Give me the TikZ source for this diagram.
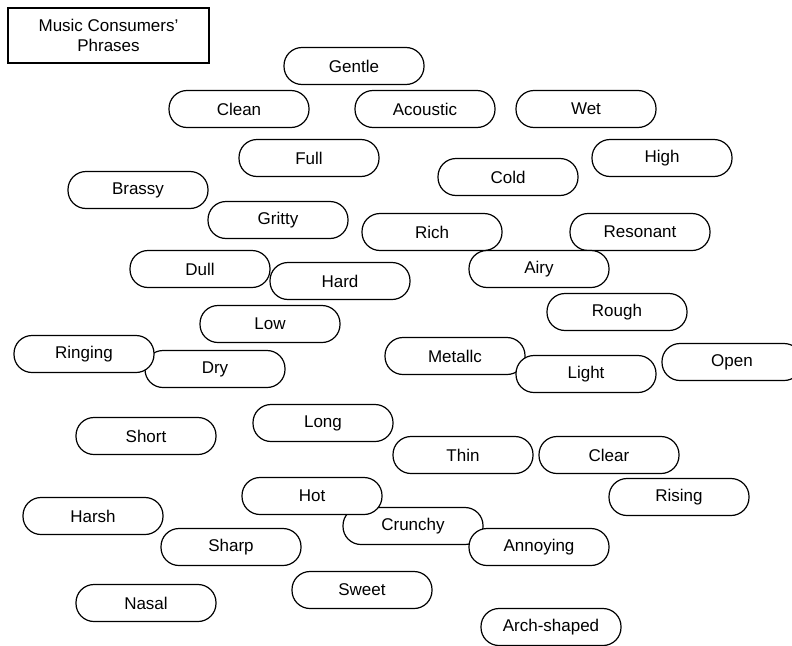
\documentclass[tikz,border=0pt]{standalone}
\usepackage{fontspec}
\setmainfont{Liberation Sans}
\usetikzlibrary{positioning}

\begin{document}
\begin{tikzpicture}[x=1pt,y=-1pt,every node/.style={font=\fontsize{17}{20}\selectfont}]
      \tikzstyle{pill} =[draw,fill=white,line width=1.2pt,rounded corners=18pt,
                         minimum width=140pt,minimum height=37pt,inner sep=0pt];
      \tikzstyle{titlebox}=[draw,line width=1.2pt,minimum width=201pt,
                         minimum height=55pt,align=center,inner sep=0pt];
      \useasboundingbox (0,0) rectangle (792,645);
      \node[titlebox] (title) at (108.5,35.5) {Music Consumers'\\Phrases};
      \node[pill] (gentle)   at (354,66)  {Gentle};
      \node[pill] (clean)    at (239,109) {Clean};
      \node[pill] (acoustic) at (425,109) {Acoustic};
      \node[pill] (wet)      at (586,109) {Wet};
      \node[pill] (full)     at (309,158) {Full};
      \node[pill] (high)     at (662,158) {High};
      \node[pill] (cold)     at (508,177) {Cold};
      \node[pill] (brassy)   at (138,190) {Brassy};
      \node[pill] (gritty)   at (278,220) {Gritty};
      \node[pill] (rich)     at (432,232) {Rich};
      \node[pill] (resonant) at (640,232) {Resonant};
      \node[pill] (dull)     at (200,269) {Dull};
      \node[pill] (hard)     at (340,281) {Hard};
      \node[pill] (airy)     at (539,269) {Airy};
      \node[pill] (rough)    at (617,312) {Rough};
      \node[pill] (low)      at (270,324) {Low};
      \node[pill] (dry)      at (215,369) {Dry};
      \node[pill] (ringing)  at (84,354)  {Ringing};
      \node[pill] (metallic) at (455,356) {Metallc};
      \node[pill] (light)    at (586,374) {Light};
      \node[pill] (open)     at (732,362) {Open};
      \node[pill] (short)    at (146,436) {Short};
      \node[pill] (long)     at (323,423) {Long};
      \node[pill] (thin)     at (463,455) {Thin};
      \node[pill] (clear)    at (609,455) {Clear};
      \node[pill] (rising)   at (679,497) {Rising};
      \node[pill] (harsh)    at (93,516)  {Harsh};
      \node[pill] (crunchy)  at (413,526) {Crunchy};
      \node[pill] (hot)      at (312,496) {Hot};
      \node[pill] (sharp)    at (231,547) {Sharp};
      \node[pill] (annoying) at (539,547) {Annoying};
      \node[pill] (sweet)    at (362,590) {Sweet};
      \node[pill] (nasal)    at (146,603) {Nasal};
      \node[pill] (arch)     at (551,627) {Arch-shaped};
    \end{tikzpicture}
\end{document}
